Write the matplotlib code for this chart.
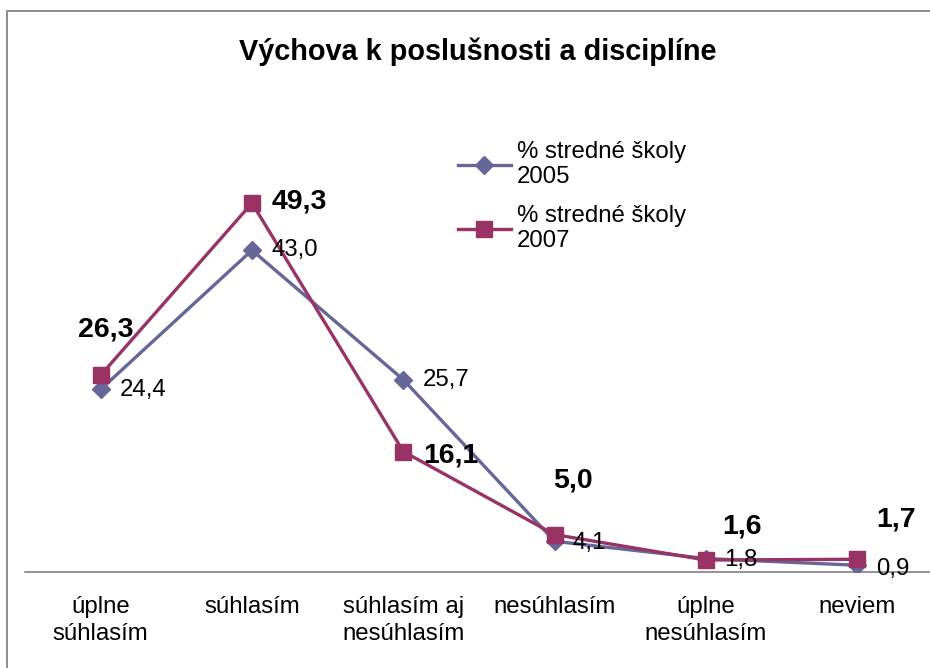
import matplotlib
matplotlib.use("Agg")
import matplotlib.pyplot as plt
from matplotlib.patches import Rectangle
from matplotlib.lines import Line2D

plt.rcParams['font.family'] = ['Liberation Sans', 'DejaVu Sans']

title = "Výchova k poslušnosti a disciplíne"
categories = ["úplne\nsúhlasím", "súhlasím", "súhlasím aj\nnesúhlasím",
              "nesúhlasím", "úplne\nnesúhlasím", "neviem"]
series_names = ["% stredné školy\n2005", "% stredné školy\n2007"]
values_2005 = [24.4, 43.0, 25.7, 4.1, 1.8, 0.9]
values_2007 = [26.3, 49.3, 16.1, 5.0, 1.6, 1.7]

c2005 = "#666699"
c2007 = "#993366"

W, H = 930, 668
fig = plt.figure(figsize=(W / 100, H / 100), dpi=100)
fig.patch.set_facecolor("white")

# outer chart border (right and bottom edges fall outside the picture)
fig.add_artist(Rectangle((7 / W, -20 / H), 1.2, (H - 11 + 20) / H,
                         transform=fig.transFigure, fill=False,
                         edgecolor="#8c8c8c", linewidth=1.4))

ax = fig.add_axes([25 / W, (H - 572) / H, 908 / W, 449 / H])
x = list(range(len(categories)))

ax.plot(x, values_2005, color=c2005, lw=2.4, marker="D", markersize=9.5,
        markerfacecolor=c2005, markeredgecolor=c2005, zorder=3)
ax.plot(x, values_2007, color=c2007, lw=2.4, marker="s", markersize=11.5,
        markerfacecolor=c2007, markeredgecolor=c2007, zorder=4)

ax.set_xlim(-0.5, len(categories) - 0.5)
ax.set_ylim(0, 60)
ax.set_yticks([])
ax.set_xticks(x)
ax.set_xticklabels(categories, fontsize=17.3, linespacing=1.3)
ax.tick_params(axis="x", length=0, pad=17)
for s in ["top", "right", "left"]:
    ax.spines[s].set_visible(False)
ax.spines["bottom"].set_color("#808080")
ax.spines["bottom"].set_linewidth(1.2)
ax.patch.set_alpha(0)

def fmt(v):
    return f"{v:.1f}".replace(".", ",")

# 2005 labels (right of the point)
offs_2005 = [(19, -1), (19, 0), (19, 0), (18, -2), (18, -1), (19, -4)]
for xi, v, o in zip(x, values_2005, offs_2005):
    ax.annotate(fmt(v), (xi, v), xytext=o, textcoords="offset pixels",
                ha="left", va="center", fontsize=17.3, color="black", zorder=6)

# 2007 labels (bold)
offs_2007 = [(5, 46, "center"), (20, 2, "left"), (20, -4, "left"),
             (18, 54, "center"), (36, 34, "center"), (39, 40, "center")]
for xi, v, (dx, dy, ha) in zip(x, values_2007, offs_2007):
    ax.annotate(fmt(v), (xi, v), xytext=(dx, dy), textcoords="offset pixels",
                ha=ha, va="center", fontsize=20.5, fontweight="bold",
                color="black", zorder=6)

fig.text(478 / W, 1 - 52 / H, title, ha="center", va="center",
         fontsize=20.8, fontweight="bold")

handles = [Line2D([], [], color=c2005, lw=2.4, marker="D", markersize=9.5),
           Line2D([], [], color=c2007, lw=2.4, marker="s", markersize=11.5)]
fig.legend(handles, series_names, loc="upper left",
           bbox_to_anchor=(458 / W, 1 - 141 / H), frameon=False,
           fontsize=17.3, handlelength=2.2, handletextpad=0.25,
           labelspacing=0.68, borderpad=0, borderaxespad=0)

fig.savefig("out.png", dpi=100)
